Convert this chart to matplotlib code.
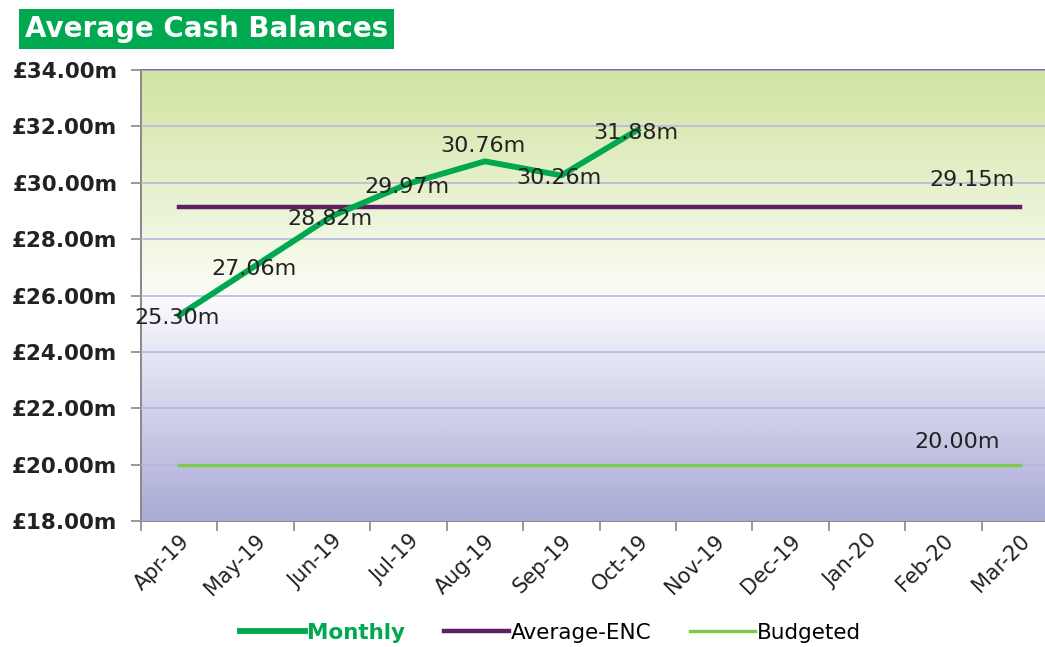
import numpy as np
import matplotlib
matplotlib.use('Agg')
import matplotlib.pyplot as plt
from matplotlib.colors import LinearSegmentedColormap

# data
months = ['Apr-19', 'May-19', 'Jun-19', 'Jul-19', 'Aug-19', 'Sep-19',
          'Oct-19', 'Nov-19', 'Dec-19', 'Jan-20', 'Feb-20', 'Mar-20']
monthly = [25.30, 27.06, 28.82, 29.97, 30.76, 30.26, 31.88]
average_enc = [29.15] * 12
budgeted = [20.00] * 12
y_ticks = [18, 20, 22, 24, 26, 28, 30, 32, 34]

plt.rcParams['font.family'] = ['DejaVu Sans']

fig = plt.figure(figsize=(10.45, 6.47), dpi=100)
ax = fig.add_axes([141/1045, 1 - 521/647, (1058 - 141)/1045, (521 - 70)/647])

# background gradient: green at top -> white at 26m -> lavender at bottom
cmap = LinearSegmentedColormap.from_list(
    'bg', [(0.0, '#aaabd6'), (0.5, '#fbfbfe'), (0.505, '#fbfdf5'), (1.0, '#d1e4a2')])
grad = np.linspace(0, 1, 400).reshape(-1, 1)
ax.imshow(grad, cmap=cmap, aspect='auto', origin='lower',
          extent=[-0.5, 11.5, 18, 34], zorder=0)

x = np.arange(len(months))
ax.plot(x[:len(monthly)], monthly, color='#00a84f', lw=4.2, zorder=4)
ax.plot(x, average_enc, color='#5e1f63', lw=3.2, zorder=3)
ax.plot(x, budgeted, color='#7ccc4b', lw=2.4, zorder=3)

# data labels
lab = dict(fontsize=16, color='#222222', ha='center', va='center', zorder=5,
           textcoords='offset pixels')
for i, v in enumerate(monthly):
    dy = 18 if i == 4 else 0
    ax.annotate(f'{v:.2f}m', (x[i], v), xytext=(-2, dy - 3), **lab)
ax.annotate(f'{average_enc[-1]:.2f}m', (x[-1], average_enc[-1]), xytext=(-48, 27), **lab)
ax.annotate(f'{budgeted[-1]:.2f}m', (x[-1], budgeted[-1]), xytext=(-63, 23), **lab)

ax.set_xlim(-0.5, 11.5)
ax.set_ylim(18, 34)
ax.set_yticks(y_ticks)
ax.set_yticklabels([f'£{t:.2f}m' for t in y_ticks], fontsize=15.5, fontweight='bold',
                   color='#222222')
ax.grid(axis='y', color='#b3b3df', lw=1.1, zorder=1)
ax.set_axisbelow(False)

ax.set_xticks(x)
ax.set_xticklabels(months, rotation=45, ha='right', va='top', rotation_mode='anchor',
                   fontsize=15, color='#222222')
ax.tick_params(axis='x', which='major', length=0, pad=7)
ax.set_xticks(np.arange(-0.5, 12, 1), minor=True)
ax.tick_params(axis='x', which='minor', length=7, color='#888888', width=1.2)
ax.tick_params(axis='y', length=7, color='#888888', width=1.2, pad=10)

for s in ['left', 'bottom']:
    ax.spines[s].set_color('#888888')
    ax.spines[s].set_linewidth(1.4)
ax.spines['top'].set_color('#7b4a7b')
ax.spines['top'].set_linewidth(1.2)
ax.spines['right'].set_visible(False)

# title in a green box
fig.text(25/1045, 1 - 29/647, 'Average Cash Balances', fontsize=20, fontweight='bold',
         color='white', va='center', ha='left',
         bbox=dict(boxstyle='square,pad=0.2', facecolor='#00a84f', edgecolor='none'))

leg = fig.legend(['Monthly', 'Average-ENC', 'Budgeted'], loc='center',
                 bbox_to_anchor=(0.527, 0.022), ncol=3, frameon=False, fontsize=15.5,
                 handlelength=3.0, handletextpad=0.1, columnspacing=1.8,
                 borderpad=0.1)
leg.get_texts()[0].set_color('#00a84f')
leg.get_texts()[0].set_fontweight('bold')

fig.savefig('out.png', dpi=100)
